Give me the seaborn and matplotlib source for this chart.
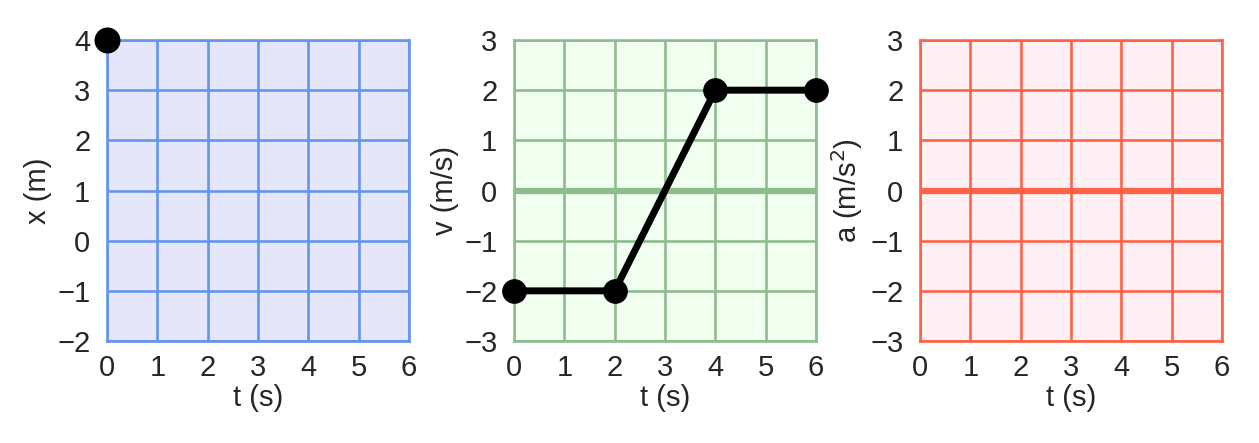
import matplotlib
matplotlib.use("Agg")
import matplotlib.pyplot as plt
import seaborn as sns
import pandas as pd

# Data
x_t = [0]
x_vals = [4]

v_t = [0, 2, 4, 6]
v_vals = [-2, -2, 2, 2]

a_t = [0, 6]
a_vals = [0, 0]

t_ticks = [0, 1, 2, 3, 4, 5, 6]
x_ticks = [-2, -1, 0, 1, 2, 3, 4]
va_ticks = [-3, -2, -1, 0, 1, 2, 3]

sns.set_style("white")
plt.rcParams['font.family'] = ['Liberation Sans', 'DejaVu Sans']
plt.rcParams['text.color'] = '#262626'
plt.rcParams['axes.labelcolor'] = '#262626'
plt.rcParams['xtick.color'] = '#262626'
plt.rcParams['ytick.color'] = '#262626'

fs = 21

fig = plt.figure(figsize=(12.59, 4.43), dpi=100)
lefts = [107, 514, 920]
axs = [fig.add_axes([l / 1259, 102 / 443, 302 / 1259, 301 / 443]) for l in lefts]

panels = [
    dict(ax=axs[0], col='cornflowerblue', bg='lavender', yt=x_ticks, ylab='x (m)'),
    dict(ax=axs[1], col='darkseagreen', bg='honeydew', yt=va_ticks, ylab='v (m/s)'),
    dict(ax=axs[2], col='tomato', bg='lavenderblush', yt=va_ticks, ylab='a (m/s$^2$)'),
]

# position
dfx = pd.DataFrame({'t': x_t, 'x': x_vals})
sns.scatterplot(data=dfx, x='t', y='x', ax=axs[0], color='black', s=300,
                edgecolor='black', zorder=5, clip_on=False)

# velocity
axs[1].axhline(0, color='darkseagreen', linewidth=4.5, zorder=1.5)
dfv = pd.DataFrame({'t': v_t, 'v': v_vals})
sns.lineplot(data=dfv, x='t', y='v', ax=axs[1], color='black', linewidth=5,
             marker='o', markersize=17, markeredgecolor='black', zorder=5, clip_on=False)

# acceleration
dfa = pd.DataFrame({'t': a_t, 'a': a_vals})
sns.lineplot(data=dfa, x='t', y='a', ax=axs[2], color='tomato', linewidth=4.5, zorder=3)

for p in panels:
    ax = p['ax']
    ax.set_facecolor(p['bg'])
    ax.set_xlim(0, 6)
    ax.set_ylim(p['yt'][0], p['yt'][-1])
    ax.set_xticks(t_ticks)
    ax.set_yticks(p['yt'])
    ax.grid(True, color=p['col'], linewidth=1.9)
    ax.set_axisbelow(True)
    for s in ax.spines.values():
        s.set_color(p['col'])
        s.set_linewidth(1.9)
        s.set_visible(True)
    ax.tick_params(axis='x', length=0, labelsize=fs, pad=9)
    ax.tick_params(axis='y', length=0, labelsize=fs, pad=12)
    ax.set_xlabel('t (s)', fontsize=fs, labelpad=2)
    ax.set_ylabel(p['ylab'], fontsize=fs, labelpad=4)

fig.savefig('out.png', dpi=100)
